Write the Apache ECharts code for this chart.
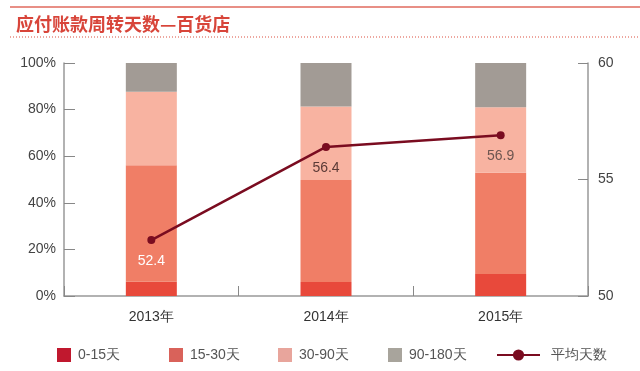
<!DOCTYPE html>
<html><head><meta charset="utf-8">
<script src="https://cdn.jsdelivr.net/npm/echarts@6/dist/echarts.min.js"></script>
<style>html,body{margin:0;padding:0;background:#fff}#c{width:640px;height:371px}</style>
</head><body><div id="c"></div>
<script>
var categories = ['2013年', '2014年', '2015年'];
var d0_15 = [6.1, 6.0, 9.4];
var d15_30 = [50.0, 43.8, 43.5];
var d30_90 = [31.6, 31.5, 28.1];
var d90_180 = [12.3, 18.7, 19.0];
var avgDays = [52.4, 56.4, 56.9];
var leftTicks = ['0%', '20%', '40%', '60%', '80%', '100%'];
var seriesNames = ['0-15天', '15-30天', '30-90天', '90-180天', '平均天数'];

var barColors = ['#e8493b', '#f07e66', '#f8b3a1', '#a29b95'];
var legendColors = ['#c0182e', '#d9625a', '#e8a59c', '#a8a49c'];
var lineColor = '#7a0c20';
var font = 'Liberation Sans, Arial, sans-serif';

var chart = echarts.init(document.getElementById('c'));
var barData = [d0_15, d15_30, d30_90, d90_180];
var series = barData.map(function (arr, i) {
  return {
    name: seriesNames[i], type: 'bar', stack: 'a', barWidth: 51,
    itemStyle: { color: barColors[i] }, data: arr, yAxisIndex: 0, z: 2
  };
});
var lblColors = ['#ffffff', '#5b3a36', '#6d5550'];
series.push({
  name: seriesNames[4], type: 'line', yAxisIndex: 1, z: 5,
  symbol: 'circle', symbolSize: 8,
  lineStyle: { color: lineColor, width: 2.5 }, itemStyle: { color: lineColor },
  data: avgDays.map(function (v, i) {
    return { value: v, label: { show: true, position: 'bottom', distance: 10, color: lblColors[i], fontSize: 14, fontFamily: font } };
  })
});

var legendLefts = [52, 164, 273, 383];
var legends = legendLefts.map(function (l, i) {
  return {
    left: l, top: 343, itemWidth: 14, itemHeight: 14, itemGap: 6,
    textStyle: { color: '#555', fontSize: 14, fontFamily: font, padding: [0, 0, 0, 2] },
    data: [{ name: seriesNames[i], icon: 'rect', itemStyle: { color: legendColors[i] } }]
  };
});
legends.push({
  left: 491, top: 343, itemWidth: 43, itemHeight: 14,
  textStyle: { color: '#555', fontSize: 14, fontFamily: font, padding: [0, 0, 0, 6] },
  data: [{ name: seriesNames[4] }]
});

chart.setOption({
  animation: false,
  title: {
    text: '应付账款周转天数—百货店', left: 11, top: 10,
    textStyle: { color: '#d8453a', fontSize: 18, fontWeight: 'bold', fontFamily: 'Noto Sans CJK SC' }
  },
  graphic: [
    { type: 'line', shape: { x1: 10, y1: 7, x2: 640, y2: 7 }, style: { stroke: '#e06a5e', lineWidth: 1.5 } },
    { type: 'line', shape: { x1: 10, y1: 37, x2: 640, y2: 37 }, style: { stroke: '#e88a80', lineWidth: 1.5, lineDash: [1, 2] } }
  ],
  legend: legends,
  grid: { left: 64, right: 52, top: 63, bottom: 75 },
  xAxis: {
    type: 'category', data: categories,
    axisLine: { lineStyle: { color: '#999', width: 1.5 } },
    axisTick: { show: true, inside: true, length: 10, lineStyle: { color: '#888' } },
    axisLabel: { color: '#333', fontSize: 14, fontFamily: font, margin: 14 }
  },
  yAxis: [
    {
      type: 'value', min: 0, max: 100, interval: 20,
      splitLine: { show: false },
      axisLine: { show: true, lineStyle: { color: '#999', width: 1.5 } },
      axisTick: { show: true, inside: true, length: 11, lineStyle: { color: '#888' } },
      axisLabel: { color: '#444', fontSize: 14, fontFamily: font, margin: 8,
        formatter: function (v) { return leftTicks[v / 20]; } }
    },
    {
      type: 'value', min: 50, max: 60, interval: 5, position: 'right',
      splitLine: { show: false },
      axisLine: { show: true, lineStyle: { color: '#999', width: 1.5 } },
      axisTick: { show: true, inside: true, length: 10, lineStyle: { color: '#888' } },
      axisLabel: { color: '#444', fontSize: 14, fontFamily: font, margin: 10 }
    }
  ],
  series: series
});
</script></body></html>
